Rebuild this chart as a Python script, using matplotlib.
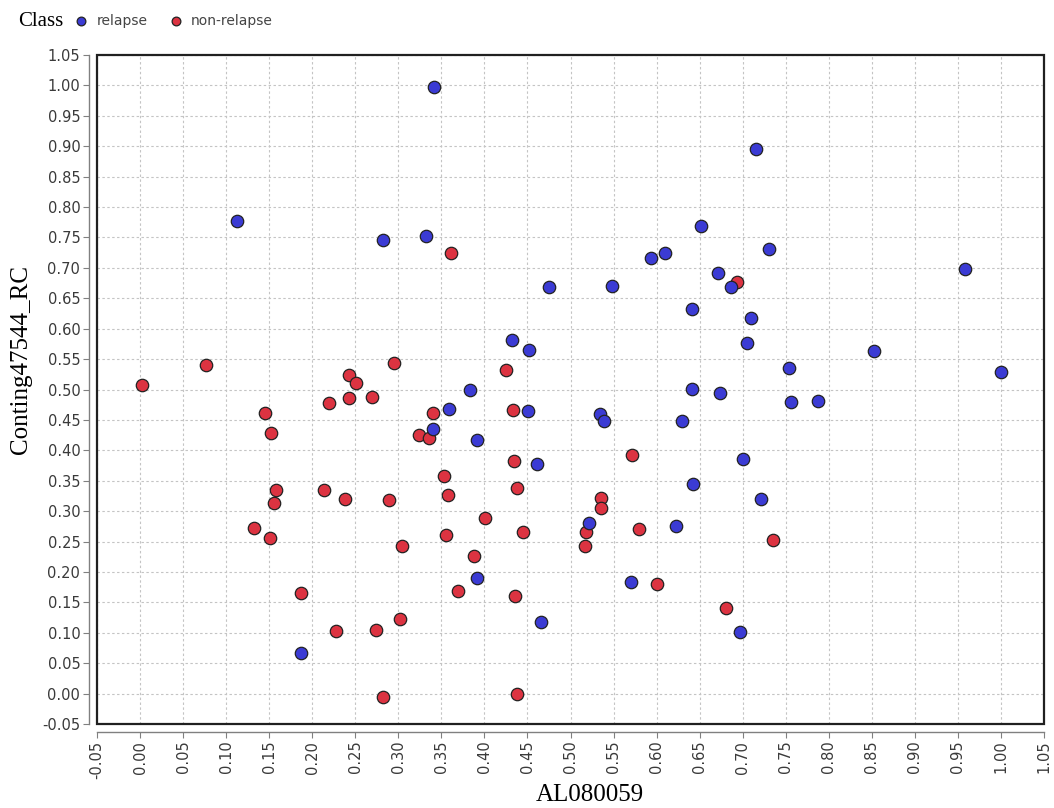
import numpy as np
import matplotlib
matplotlib.use('Agg')
import matplotlib.pyplot as plt
from matplotlib.patches import Rectangle
from matplotlib.ticker import MultipleLocator, FormatStrFormatter

# relapse points (AL080059, Conting47544_RC)
relapse_x = [0.341, 0.715, 0.113, 0.282, 0.332, 0.652, 0.610, 0.594, 0.730, 0.958,
             0.671, 0.686, 0.548, 0.475, 0.641, 0.710, 0.705, 0.432, 0.452, 0.853,
             0.754, 1.000, 0.756, 0.787, 0.383, 0.641, 0.674, 0.359, 0.451, 0.534,
             0.539, 0.630, 0.340, 0.391, 0.700, 0.461, 0.642, 0.721, 0.522, 0.623,
             0.391, 0.570, 0.466, 0.697, 0.187]
relapse_y = [0.997, 0.896, 0.777, 0.746, 0.753, 0.769, 0.725, 0.716, 0.731, 0.698,
             0.692, 0.669, 0.670, 0.669, 0.632, 0.618, 0.577, 0.581, 0.565, 0.564,
             0.535, 0.529, 0.479, 0.481, 0.499, 0.501, 0.494, 0.468, 0.465, 0.460,
             0.448, 0.449, 0.435, 0.417, 0.386, 0.377, 0.345, 0.320, 0.281, 0.275,
             0.190, 0.183, 0.117, 0.101, 0.067]

# non-relapse points
nonrel_x = [0.002, 0.077, 0.295, 0.243, 0.251, 0.220, 0.243, 0.270, 0.145, 0.152,
            0.361, 0.693, 0.425, 0.340, 0.433, 0.324, 0.336, 0.572, 0.434, 0.353,
            0.358, 0.438, 0.536, 0.536, 0.158, 0.156, 0.214, 0.238, 0.289, 0.132,
            0.151, 0.401, 0.518, 0.355, 0.445, 0.579, 0.517, 0.735, 0.304, 0.388,
            0.369, 0.435, 0.601, 0.681, 0.187, 0.228, 0.274, 0.302, 0.282, 0.438]
nonrel_y = [0.507, 0.540, 0.543, 0.524, 0.511, 0.477, 0.486, 0.487, 0.461, 0.428,
            0.725, 0.676, 0.532, 0.462, 0.466, 0.425, 0.421, 0.392, 0.382, 0.357,
            0.327, 0.338, 0.321, 0.305, 0.335, 0.313, 0.335, 0.320, 0.319, 0.273,
            0.256, 0.288, 0.266, 0.261, 0.266, 0.270, 0.242, 0.252, 0.242, 0.226,
            0.168, 0.161, 0.181, 0.141, 0.165, 0.103, 0.104, 0.123, -0.005, 0.000]

W, H = 1054, 808
fig = plt.figure(figsize=(W / 100, H / 100), dpi=100)
ax = fig.add_axes([97 / W, 1 - 724 / H, (1044 - 97) / W, (724 - 55) / H])

blue = '#3b3bd4'
red = '#dc3341'
sc_red = ax.scatter(nonrel_x, nonrel_y, s=80, c=red, edgecolors='#222222', linewidths=0.9, zorder=3)
sc_blue = ax.scatter(relapse_x, relapse_y, s=80, c=blue, edgecolors='#222222', linewidths=0.9, zorder=4)

ax.set_xlim(-0.05, 1.05)
ax.set_ylim(-0.05, 1.05)
ax.xaxis.set_major_locator(MultipleLocator(0.05))
ax.yaxis.set_major_locator(MultipleLocator(0.05))
ax.xaxis.set_major_formatter(FormatStrFormatter('%.2f'))
ax.yaxis.set_major_formatter(FormatStrFormatter('%.2f'))
ax.grid(True, color='#c4c4c4', linestyle=(0, (2.2, 2.2)), linewidth=0.8, zorder=0)
ax.set_axisbelow(True)

for side in ['top', 'right']:
    ax.spines[side].set_visible(False)
for side in ['left', 'bottom']:
    ax.spines[side].set_position(('outward', 6))
    ax.spines[side].set_color('#808080')
    ax.spines[side].set_linewidth(1.0)

ax.tick_params(axis='both', direction='out', length=4, width=0.8, color='#808080',
               labelsize=10.5, labelcolor='#3a3a3a', pad=2)
plt.setp(ax.get_xticklabels(), rotation=90)

# black frame around plot area
ax.add_patch(Rectangle((0, 0), 1, 1, transform=ax.transAxes, fill=False,
                       edgecolor='#202020', linewidth=1.6, clip_on=False, zorder=5))

ax.set_xlabel('AL080059', family='Liberation Serif', fontsize=18, va='center')
ax.set_ylabel('Conting47544_RC', family='Liberation Serif', fontsize=18, va='center')
ax.xaxis.set_label_coords(0.52, -0.106)
ax.yaxis.set_label_coords(-0.080, 0.545)

fig.text(18 / W, 1 - 21 / H, 'Class', family='Liberation Serif', fontsize=15, va='center', ha='left')
fig.legend(handles=[sc_blue, sc_red], labels=['relapse', 'non-relapse'],
           loc='center left', bbox_to_anchor=(62 / W, 1 - 21 / H), ncol=2, frameon=False,
           fontsize=10, handletextpad=0.1, columnspacing=1.0, markerscale=0.7,
           labelcolor='#444444', borderaxespad=0)

fig.savefig('out.png', dpi=100)
